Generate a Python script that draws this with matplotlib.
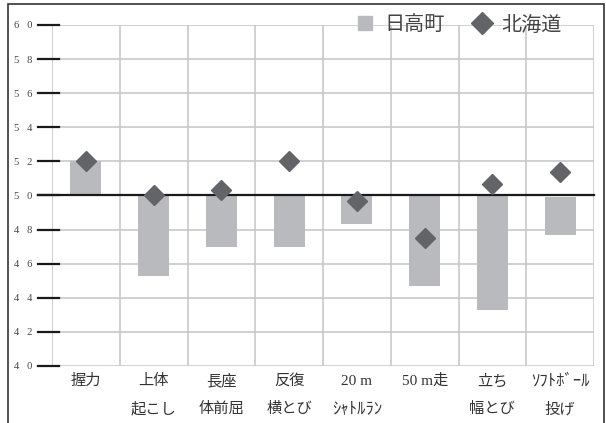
import matplotlib
matplotlib.use("Agg")
import matplotlib.pyplot as plt
import matplotlib.transforms as mtransforms
from matplotlib.lines import Line2D
from matplotlib.patches import Rectangle

plt.rcParams['font.family'] = ['Liberation Serif', 'Noto Sans CJK JP', 'DejaVu Sans']

# 種目名（2行表示）
labels_top = ['握力', '上体', '長座', '反復', '20 m', '50 m走', '立ち', 'ｿﾌﾄﾎﾞｰﾙ']
labels_bottom = ['', '起こし', '体前屈', '横とび', 'ｼｬﾄﾙﾗﾝ', '', '幅とび', '投げ']

# 日高町（棒の上端・下端）と北海道（◆）の値
hidaka_base = [50.0, 50.0, 50.0, 50.0, 50.0, 50.0, 50.0, 49.9]
hidaka = [52.0, 45.3, 47.0, 47.0, 48.3, 44.7, 43.3, 47.7]
hokkaido = [52.0, 50.0, 50.3, 52.0, 49.7, 47.5, 50.7, 51.4]

yticks = list(range(40, 61, 2))

bar_color = '#b9babd'
dia_color = '#636468'
grid_color = '#c8c8c8'
text_color = '#333333'

fig = plt.figure(figsize=(6.06, 4.23), dpi=100)
ax = fig.add_axes([52 / 606, 57 / 423, 542 / 606, 341 / 423])

# 外枠
fig.patches.append(Rectangle((8 / 606, -0.1), 596 / 606, 1.1 - 4 / 423,
                             transform=fig.transFigure, fill=False,
                             edgecolor='#333333', lw=1.2))

x = list(range(len(labels_top)))
heights = [v - b for v, b in zip(hidaka, hidaka_base)]
ax.bar(x, heights, bottom=hidaka_base, width=0.46, color=bar_color, zorder=2)
ax.plot(x, hokkaido, linestyle='none', marker='D', markersize=10.6,
        color=dia_color, zorder=4)

ax.set_xlim(-0.5, len(x) - 0.5)
ax.set_ylim(40, 60)

# グリッド
for y in yticks:
    ax.axhline(y, color=grid_color, lw=1.2, zorder=1)
for i in range(len(x) + 1):
    ax.axvline(i - 0.5, color=grid_color, lw=1.2, zorder=1)

# 基準線 50
ax.axhline(50, xmin=-14 / 542, xmax=1, color='#1a1a1a', lw=1.6, zorder=3,
           clip_on=False)

# 目盛り線
trans = mtransforms.blended_transform_factory(ax.transAxes, ax.transData)
for y in yticks:
    ax.add_line(Line2D([-14 / 542, 7 / 542], [y, y], transform=trans,
                       color='#1a1a1a', lw=1.6, clip_on=False, zorder=3))

for s in ax.spines.values():
    s.set_visible(False)
ax.set_yticks(yticks)
ax.set_yticklabels(['   '.join(str(v)) for v in yticks], fontsize=7.6,
                   color='#444444')
ax.tick_params(axis='y', length=0, pad=14.4)
ax.set_xticks([])

# 横軸ラベル
tx = mtransforms.blended_transform_factory(ax.transData, ax.transAxes)
for i in x:
    top = labels_top[i]
    bot = labels_bottom[i]
    fs_top = 12 if top.startswith('ｿ') else 11
    fs_bot = 12 if bot.startswith('ｼ') else 11
    ax.text(i, -0.044, top, transform=tx, ha='center', va='center',
            fontsize=fs_top, color=text_color)
    if bot:
        ax.text(i, -0.126, bot, transform=tx, ha='center', va='center',
                fontsize=fs_bot, color=text_color)

# 凡例
handles = [
    Line2D([], [], linestyle='none', marker='s', markersize=10.5,
           color=bar_color),
    Line2D([], [], linestyle='none', marker='D', markersize=11,
           color=dia_color),
]
ax.legend(handles, ['日高町', '北海道'], ncol=2, frameon=False,
          loc='center right', bbox_to_anchor=(0.94, 1.0),
          borderaxespad=0, borderpad=0, handlelength=1.1,
          handletextpad=0.4, columnspacing=1.3,
          prop={'size': 14.5, 'family': ['Noto Sans CJK JP']},
          labelcolor='#444444')

fig.savefig('out.png', dpi=100)
